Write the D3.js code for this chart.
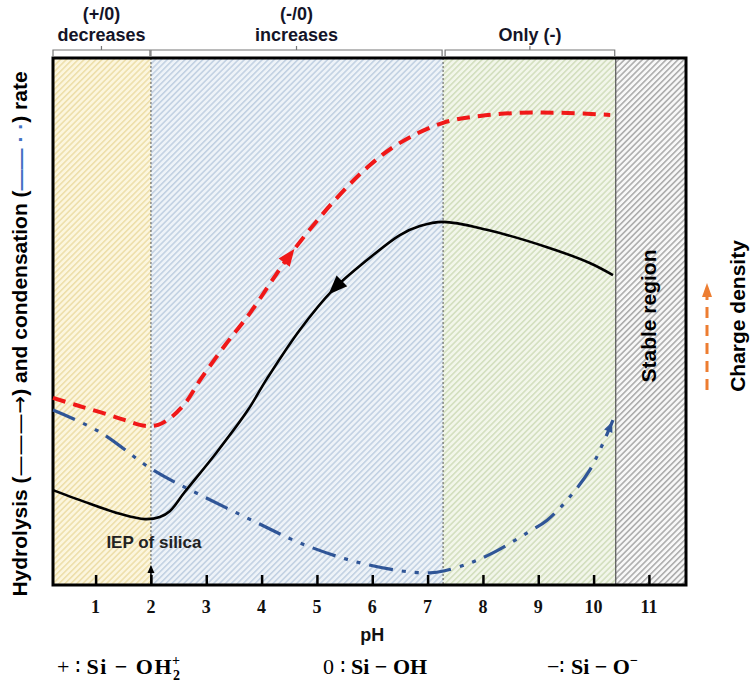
<!DOCTYPE html>
<html><head><meta charset="utf-8">
<script src="https://cdn.jsdelivr.net/npm/d3@7"></script>
<style>body{margin:0;background:#fff}</style>
</head><body>
<svg id="chart" width="750" height="698" xmlns="http://www.w3.org/2000/svg"></svg>
<script>
// ---------- data ----------
const phTicks = [1, 2, 3, 4, 5, 6, 7, 8, 9, 10, 11];
const regionBounds = [0.23, 2, 7.28, 10.4, 11.67];
const regionNames = ["acid", "neutral", "basic", "stable"];
const topLabels = [["(+/0)", "decreases"], ["(-/0)", "increases"], ["Only (-)"]];

// hydrolysis rate (black solid)
const hydPH   = [0.23, 0.90, 1.44, 1.89, 2.16, 2.34, 2.60, 3.19, 3.74, 4.10, 4.69, 5.29, 5.91, 6.50, 6.86, 7.28, 8.07, 9.16, 9.93, 10.35];
const hydRate = [18.0, 15.4, 13.5, 12.5, 12.9, 14.0, 17.5, 25.2, 33.0, 39.2, 48.4, 56.0, 61.7, 66.4, 68.1, 68.9, 67.4, 64.1, 61.1, 58.8];

// charge density (red dashed)
const chgPH   = [0.23, 0.63, 1.08, 1.53, 1.89, 2.13, 2.35, 2.62, 2.89, 3.34, 3.79, 4.51, 5.33, 5.96, 6.50, 7.28, 7.95, 8.67, 9.39, 10.30];
const chgVal  = [35.5, 34.2, 32.8, 31.3, 30.2, 30.4, 31.7, 34.5, 38.9, 45.5, 51.6, 62.6, 73.1, 79.7, 83.9, 87.7, 89.0, 89.6, 89.6, 89.2];

// condensation rate (blue dash-dot-dot)
const conPH   = [0.23, 1.08, 2.04, 2.89, 3.92, 4.69, 5.60, 6.50, 7.04, 7.31, 7.77, 8.18, 8.80, 9.16, 9.52, 9.93, 10.17, 10.35];
const conRate = [33.2, 29.0, 21.8, 17.1, 11.8, 8.0, 4.7, 2.7, 2.3, 2.7, 4.2, 6.1, 9.9, 12.3, 16.1, 21.8, 26.9, 31.3];

const iepPH = 2;

// ---------- layout ----------
const svg = d3.select("#chart");
const L = 53, R = 686, T = 58, B = 585;
const x = d3.scaleLinear().domain([regionBounds[0], regionBounds[4]]).range([L, R]);
const y = d3.scaleLinear().domain([0, 100]).range([B, T]);
const sans = "Liberation Sans, Arial, sans-serif";
const serif = "Liberation Serif, Times New Roman, serif";

const defs = svg.append("defs");
function hatch(id, bg, stroke) {
  const s = 4.2;
  const p = defs.append("pattern").attr("id", id).attr("patternUnits", "userSpaceOnUse")
    .attr("width", s).attr("height", s).attr("patternTransform", "rotate(45)");
  p.append("rect").attr("width", s).attr("height", s).attr("fill", bg);
  p.append("line").attr("x1", 0.8).attr("y1", 0).attr("x2", 0.8).attr("y2", s)
    .attr("stroke", stroke).attr("stroke-width", 1.4);
}
hatch("h-acid", "#fcf6de", "#ecdca4");
hatch("h-neutral", "#eef3f8", "#bccde0");
hatch("h-basic", "#f2f6ea", "#cfdcb9");
hatch("h-stable", "#f8f8f8", "#a3a3a3");

// regions
svg.append("g").selectAll("rect").data(regionNames).join("rect")
  .attr("x", (d, i) => x(regionBounds[i]))
  .attr("width", (d, i) => x(regionBounds[i + 1]) - x(regionBounds[i]))
  .attr("y", T).attr("height", B - T)
  .attr("fill", d => `url(#h-${d})`);

// boundaries
[regionBounds[1], regionBounds[2]].forEach(b => {
  svg.append("line").attr("x1", x(b)).attr("x2", x(b)).attr("y1", T).attr("y2", B)
    .attr("stroke", "#555").attr("stroke-width", 1).attr("stroke-dasharray", "2,2");
});
svg.append("line").attr("x1", x(regionBounds[3])).attr("x2", x(regionBounds[3]))
  .attr("y1", T).attr("y2", B).attr("stroke", "#555").attr("stroke-width", 1.2);

// frame
svg.append("rect").attr("x", L).attr("y", T).attr("width", R - L).attr("height", B - T)
  .attr("fill", "none").attr("stroke", "#000").attr("stroke-width", 3);

// ticks (inside)
const xAxis = d3.axisTop(x).tickValues(phTicks).tickSize(10).tickFormat("");
const gx = svg.append("g").attr("transform", `translate(0,${B})`).call(xAxis);
gx.select(".domain").remove();
gx.selectAll("line").attr("stroke", "#000").attr("stroke-width", 2.5);

// tick labels
svg.append("g").selectAll("text").data(phTicks).join("text")
  .attr("x", d => x(d)).attr("y", 613).attr("text-anchor", "middle")
  .attr("font-family", serif).attr("font-weight", "bold")
  .attr("font-size", 18).attr("fill", "#111").text(d => d);

svg.append("text").attr("x", x(6)).attr("y", 641).attr("text-anchor", "middle")
  .attr("font-family", sans).attr("font-weight", "bold")
  .attr("font-size", 18).attr("fill", "#111").text("pH");

// curves
const line = d3.line().x(d => x(d[0])).y(d => y(d[1])).curve(d3.curveCatmullRom.alpha(0.5));
const chgPath = svg.append("path").datum(d3.zip(chgPH, chgVal)).attr("d", line)
  .attr("fill", "none").attr("stroke", "#f01818").attr("stroke-width", 4).attr("stroke-dasharray", "13,8");
const conPath = svg.append("path").datum(d3.zip(conPH, conRate)).attr("d", line)
  .attr("fill", "none").attr("stroke", "#2f5597").attr("stroke-width", 3.2)
  .attr("stroke-dasharray", "24,9,4,9,4,9");
const hydPath = svg.append("path").datum(d3.zip(hydPH, hydRate)).attr("d", line)
  .attr("fill", "none").attr("stroke", "#000").attr("stroke-width", 2.6);

function pointAtX(pathSel, px) {
  const node = pathSel.node(); const total = node.getTotalLength();
  let lo = 0, hi = total;
  for (let k = 0; k < 40; k++) { const m = (lo + hi) / 2; if (node.getPointAtLength(m).x < px) lo = m; else hi = m; }
  return lo;
}
function arrowHead(pathSel, ph, backward, len, wid, color) {
  const node = pathSel.node();
  const l = pointAtX(pathSel, x(ph));
  const p = node.getPointAtLength(l);
  const q = node.getPointAtLength(l + (backward ? -3 : 3));
  const ang = Math.atan2(q.y - p.y, q.x - p.x) * 180 / Math.PI;
  svg.append("path").attr("d", `M${len / 2},0 L${-len / 2},${-wid / 2} L${-len / 2},${wid / 2} Z`)
    .attr("fill", color).attr("transform", `translate(${p.x},${p.y}) rotate(${ang})`);
}
arrowHead(chgPath, 4.5, false, 17, 14, "#f01818");
arrowHead(hydPath, 5.33, true, 19, 15, "#000");
arrowHead(conPath, 10.3, false, 10, 9, "#2f5597");

// IEP marker
const iepX = x(iepPH);
svg.append("line").attr("x1", iepX).attr("x2", iepX).attr("y1", B).attr("y2", 571)
  .attr("stroke", "#000").attr("stroke-width", 1.5);
svg.append("path").attr("d", `M${iepX},565 L${iepX - 3.5},573 L${iepX + 3.5},573 Z`).attr("fill", "#000");
svg.append("text").attr("x", iepX + 3).attr("y", 548).attr("text-anchor", "middle")
  .attr("font-family", sans).attr("font-weight", "bold")
  .attr("font-size", 17).attr("fill", "#222").text("IEP of silica");

// top brackets
const brackets = [[regionBounds[0], regionBounds[1]], [regionBounds[1], regionBounds[2]], [regionBounds[2], regionBounds[3]]];
brackets.forEach((b, i) => {
  const x0 = x(b[0]) + (i === 2 ? 2 : 0), x1 = x(b[1]) - 1, cx = (x0 + x1) / 2;
  svg.append("path").attr("d", `M${x0},56 V50 H${x1} V56 M${cx},50 V46`)
    .attr("fill", "none").attr("stroke", "#777").attr("stroke-width", 1.2);
  const lines = topLabels[i];
  lines.forEach((t, j) => {
    svg.append("text").attr("x", cx).attr("y", 41 - (lines.length - 1 - j) * 21)
      .attr("text-anchor", "middle").attr("font-family", sans)
      .attr("font-weight", "bold").attr("font-size", 18).attr("fill", "#141428").text(t);
  });
});

// y axis label
const yl = svg.append("text").attr("transform", `translate(27,334) rotate(-90)`)
  .attr("text-anchor", "middle").attr("font-family", sans)
  .attr("font-weight", "bold").attr("font-size", 21).attr("fill", "#000");
yl.append("tspan").text("Hydrolysis (");
yl.append("tspan").attr("font-family", "DejaVu Sans").attr("font-weight", "normal").text("———→");
yl.append("tspan").text(") and condensation (");
yl.append("tspan").attr("fill", "#4472c4").text("——  ·  ·");
yl.append("tspan").text(") rate");

// right labels
svg.append("text").attr("transform", `translate(656,316) rotate(-90)`).attr("text-anchor", "middle")
  .attr("font-family", sans).attr("font-weight", "bold")
  .attr("font-size", 21).attr("fill", "#000").text("Stable region");
svg.append("text").attr("transform", `translate(745,316) rotate(-90)`).attr("text-anchor", "middle")
  .attr("font-family", sans).attr("font-weight", "bold")
  .attr("font-size", 21).attr("fill", "#000").text("Charge density");
svg.append("line").attr("x1", 707).attr("x2", 707).attr("y1", 390).attr("y2", 296)
  .attr("stroke", "#ed7d31").attr("stroke-width", 3).attr("stroke-dasharray", "11,7");
svg.append("path").attr("d", "M707,283 L702,297 L712,297 Z").attr("fill", "#ed7d31");

// bottom formulas
const f1 = svg.append("text").attr("x", 57).attr("y", 674).attr("font-family", serif).attr("font-size", 22).attr("fill", "#000");
f1.append("tspan").text("+ ∶ ");
f1.append("tspan").attr("font-weight", "bold").attr("letter-spacing", 1.5).text("Si − OH");
f1.append("tspan").attr("font-weight", "bold").attr("font-size", 14).attr("dy", 6).text("2");
f1.append("tspan").attr("font-weight", "bold").attr("font-size", 14).attr("dx", -8).attr("dy", -15).text("+");
const f2 = svg.append("text").attr("x", 323).attr("y", 674).attr("font-family", serif).attr("font-size", 22).attr("fill", "#000");
f2.append("tspan").text("0 ∶ ");
f2.append("tspan").attr("font-weight", "bold").text("Si − OH");
const f3 = svg.append("text").attr("x", 547).attr("y", 674).attr("font-family", serif).attr("font-size", 22).attr("fill", "#000");
f3.append("tspan").text("−∶ ");
f3.append("tspan").attr("font-weight", "bold").text("Si − O");
f3.append("tspan").attr("font-weight", "bold").attr("font-size", 14).attr("dy", -9).text("−");
</script>
</body></html>
